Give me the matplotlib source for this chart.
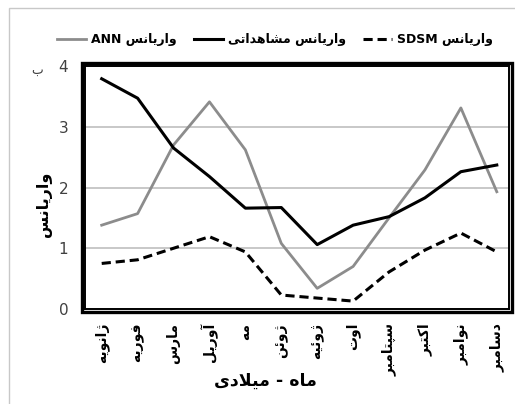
import matplotlib
matplotlib.use('Agg')
import matplotlib.pyplot as plt
from matplotlib.patches import Rectangle
from matplotlib.lines import Line2D

plt.rcParams['font.family'] = ['DejaVu Sans']

# --- data ---
months = ['ژانویه', 'فوریه', 'مارس', 'آوریل', 'مه', 'ژوئن',
          'ژوئیه', 'اوت', 'سپتامبر', 'اکتبر', 'نوامبر', 'دسامبر']
observed = [3.79, 3.47, 2.65, 2.18, 1.66, 1.67, 1.06, 1.38, 1.52, 1.83, 2.26, 2.37]
ann = [1.38, 1.57, 2.70, 3.41, 2.62, 1.08, 0.34, 0.70, 1.50, 2.29, 3.31, 1.93]
sdsm = [0.75, 0.81, 1.00, 1.19, 0.94, 0.23, 0.18, 0.13, 0.61, 0.97, 1.25, 0.94]
y_ticks = [0, 1, 2, 3, 4]

# --- minimal persian shaping (no arabic_reshaper available) ---
FORMS = {
    'ا': ('\uFE8D', '\uFE8E', '\uFE8D', '\uFE8E'),
    'آ': ('\uFE81', '\uFE82', '\uFE81', '\uFE82'),
    'ب': ('\uFE8F', '\uFE90', '\uFE91', '\uFE92'),
    'پ': ('\uFB56', '\uFB57', '\uFB58', '\uFB59'),
    'ت': ('\uFE95', '\uFE96', '\uFE97', '\uFE98'),
    'د': ('\uFEA9', '\uFEAA', '\uFEA9', '\uFEAA'),
    'ر': ('\uFEAD', '\uFEAE', '\uFEAD', '\uFEAE'),
    'ژ': ('\uFB8A', '\uFB8B', '\uFB8A', '\uFB8B'),
    'س': ('\uFEB1', '\uFEB2', '\uFEB3', '\uFEB4'),
    'ش': ('\uFEB5', '\uFEB6', '\uFEB7', '\uFEB8'),
    'ف': ('\uFED1', '\uFED2', '\uFED3', '\uFED4'),
    'ک': ('\uFB8E', '\uFB8F', '\uFB90', '\uFB91'),
    'ل': ('\uFEDD', '\uFEDE', '\uFEDF', '\uFEE0'),
    'م': ('\uFEE1', '\uFEE2', '\uFEE3', '\uFEE4'),
    'ن': ('\uFEE5', '\uFEE6', '\uFEE7', '\uFEE8'),
    'ه': ('\uFEE9', '\uFEEA', '\uFEEB', '\uFEEC'),
    'و': ('\uFEED', '\uFEEE', '\uFEED', '\uFEEE'),
    'ی': ('\uFBFC', '\uFBFD', '\uFBFE', '\uFBFF'),
    'ئ': ('\uFE89', '\uFE8A', '\uFE8B', '\uFE8C'),
}
RIGHT_ONLY = set('اآدذرزژو')


def fa(text):
    out = []
    i = 0
    while i < len(text):
        c = text[i]
        prev = text[i - 1] if i > 0 else ''
        joins_prev = prev in FORMS and prev not in RIGHT_ONLY
        if c == 'ل' and i + 1 < len(text) and text[i + 1] == 'ا':
            out.append('\uFEFC' if joins_prev else '\uFEFB')
            i += 2
            continue
        if c not in FORMS:
            out.append(c)
            i += 1
            continue
        nxt = text[i + 1] if i + 1 < len(text) else ''
        joins_next = nxt in FORMS and c not in RIGHT_ONLY
        iso, fin, ini, med = FORMS[c]
        if joins_prev and joins_next:
            out.append(med)
        elif joins_prev:
            out.append(fin)
        elif joins_next:
            out.append(ini)
        else:
            out.append(iso)
        i += 1
    return ''.join(reversed(out))


W, H = 515, 404
fig = plt.figure(figsize=(W / 100, H / 100), dpi=100)
fig.patch.set_facecolor('white')


def fx(px):
    return px / W


def fy(py):
    return 1 - py / H


# thin grey frame round the picture
fig.add_artist(Rectangle((fx(9), -0.05), 1.0, fy(8) + 0.05, transform=fig.transFigure,
                         fill=False, ec='#c8c8c8', lw=1))

ax = fig.add_axes([fx(85), fy(309), fx(509) - fx(85), fy(66) - fy(309)])
x = list(range(len(months)))

ax.plot(x, ann, color='#8c8c8c', lw=2.0, zorder=3)
ax.plot(x, observed, color='black', lw=2.2, zorder=4)
ax.plot(x, sdsm, color='black', lw=2.2, ls=(0, (3, 1.6)), zorder=4)

ax.set_xlim(-0.465, 11.34)
ax.set_ylim(0, 4)
ax.set_yticks(y_ticks)
ax.set_yticklabels([str(v) for v in y_ticks], fontsize=11, color='#404040')
ax.yaxis.grid(True, color='#c4c4c4', lw=1.3)
ax.set_axisbelow(True)
ax.tick_params(axis='both', length=0)
ax.tick_params(axis='y', pad=12)
ax.set_xticks(x)
ax.set_xticklabels([fa(m) for m in months], rotation=90, fontsize=10,
                   fontweight='bold', va='top', ha='center')
ax.tick_params(axis='x', pad=10)
for s in ax.spines.values():
    s.set_linewidth(1.4)
    s.set_color('black')

# outer line of the double frame
fig.add_artist(Rectangle((fx(82), fy(312)), fx(512) - fx(82), fy(63) - fy(312),
                         transform=fig.transFigure, fill=False, ec='black', lw=2.4))

# labels
fig.text(fx(265), fy(381), fa('ماه - میلادی'), ha='center', va='center',
         fontsize=12.5, fontweight='bold')
fig.text(fx(44), fy(204), fa('واریانس'), ha='center', va='center',
         rotation=90, fontsize=11.5, fontweight='bold')
fig.text(fx(37), fy(70), fa('ب'), ha='center', va='center', fontsize=9, color='#404040')

# legend
handles = [Line2D([], [], color='#8c8c8c', lw=2.0),
           Line2D([], [], color='black', lw=2.2),
           Line2D([], [], color='black', lw=2.2, ls=(0, (3, 1.6)))]
labels = ['ANN ' + fa('واریانس'), fa('واریانس مشاهداتی'), 'SDSM ' + fa('واریانس')]
fig.legend(handles, labels, loc='center', bbox_to_anchor=(fx(275), fy(40)), ncol=3,
           frameon=False, handlelength=2.3, handletextpad=0.4, columnspacing=1.4,
           prop={'weight': 'bold', 'size': 9})

fig.savefig('out.png', dpi=100)
